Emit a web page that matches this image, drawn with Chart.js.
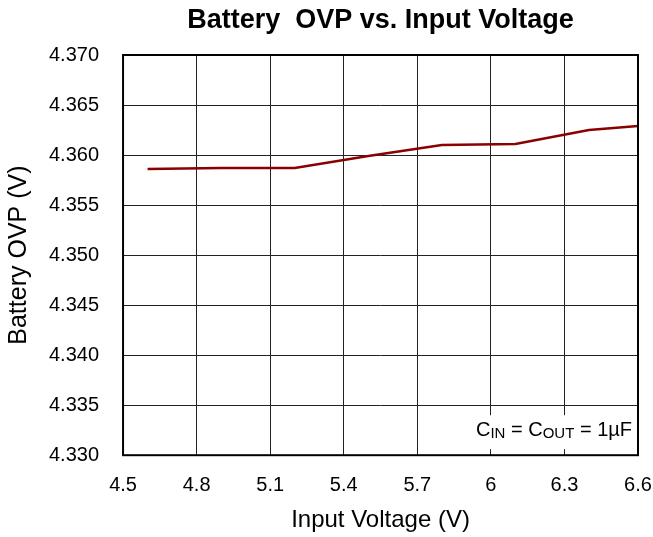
<!DOCTYPE html>
<html>
<head>
<meta charset="utf-8">
<script src="https://cdn.jsdelivr.net/npm/chart.js@4"></script>
<style>
  html, body { margin: 0; padding: 0; background: #fff; }
  #wrap { width: 653px; height: 537px; }
</style>
</head>
<body>
<div id="wrap"><canvas id="chart"></canvas></div>
<script>
// Данные
const inputVoltage = [4.6, 4.9, 5.2, 5.5, 5.8, 6.1, 6.4, 6.6];
const batteryOvp = [4.3586, 4.3587, 4.3587, 4.3599, 4.3610, 4.3611, 4.3625, 4.3629];

const chartTitle = 'Battery  OVP vs. Input Voltage';
const xTitle = 'Input Voltage (V)';
const yTitle = 'Battery OVP (V)';

const fontFamily = "'Liberation Sans', Arial, sans-serif";

// Заголовок по центру области графика
const titlePlugin = {
    id: 'centerTitle',
    afterDraw(chart) {
        const { ctx, chartArea } = chart;
        ctx.save();
        ctx.font = 'bold 27px ' + fontFamily;
        ctx.fillStyle = '#000';
        ctx.textAlign = 'center';
        ctx.textBaseline = 'middle';
        ctx.fillText(chartTitle, (chartArea.left + chartArea.right) / 2, 21);
        ctx.restore();
    }
};

// Подпись условий в правом нижнем углу
const notePlugin = {
    id: 'note',
    afterDatasetsDraw(chart) {
        const { ctx, chartArea } = chart;
        const parts = [
            ['C', 20, 0], ['IN', 15, 2], [' = C', 20, 0], ['OUT', 15, 2], [' = 1\u00b5F', 20, 0]
        ];
        ctx.save();
        let width = 0;
        parts.forEach(p => {
            ctx.font = p[1] + 'px ' + fontFamily;
            width += ctx.measureText(p[0]).width;
        });
        const right = chartArea.right - 6;
        const baseY = chartArea.bottom - 19;
        ctx.fillStyle = '#fff';
        ctx.fillRect(right - width - 10, chartArea.bottom - 40, width + 14, 34);
        ctx.fillStyle = '#000';
        ctx.textBaseline = 'alphabetic';
        let x = right - width;
        parts.forEach(p => {
            ctx.font = p[1] + 'px ' + fontFamily;
            ctx.fillText(p[0], x, baseY + p[2]);
            x += ctx.measureText(p[0]).width;
        });
        ctx.restore();
    }
};

const borderPlugin = {
    id: 'frame',
    afterDatasetsDraw(chart) {
        const { ctx, chartArea } = chart;
        ctx.save();
        ctx.strokeStyle = '#000';
        ctx.lineWidth = 2;
        ctx.strokeRect(chartArea.left, chartArea.top, chartArea.right - chartArea.left, chartArea.bottom - chartArea.top);
        ctx.restore();
    }
};

new Chart(document.getElementById('chart'), {
    type: 'line',
    data: {
        datasets: [{
            data: inputVoltage.map((v, i) => ({ x: v, y: batteryOvp[i] })),
            borderColor: '#8b0000',
            borderWidth: 2.5,
            pointRadius: 0,
            tension: 0
        }]
    },
    options: {
        responsive: true,
        maintainAspectRatio: false,
        animation: false,
        layout: { padding: { top: 55, right: 15, bottom: 2, left: 4 } },
        plugins: {
            legend: { display: false },
            tooltip: { enabled: false }
        },
        scales: {
            x: {
                type: 'linear',
                min: 4.5,
                max: 6.6,
                // последняя подпись не должна сдвигать правый край
                afterFit: scale => { scale.paddingRight = 0; },
                ticks: {
                    stepSize: 0.3,
                    color: '#000',
                    padding: 18,
                    font: { family: fontFamily, size: 20 },
                    callback: v => parseFloat(v.toFixed(1)).toString()
                },
                grid: { color: '#222', lineWidth: 1, drawTicks: false },
                border: { display: false },
                title: {
                    display: true,
                    text: xTitle,
                    color: '#000',
                    font: { family: fontFamily, size: 24 },
                    padding: { top: -9, bottom: 0 }
                }
            },
            y: {
                min: 4.33,
                max: 4.37,
                ticks: {
                    stepSize: 0.005,
                    color: '#000',
                    padding: 24,
                    font: { family: fontFamily, size: 20 },
                    callback: v => v.toFixed(3)
                },
                grid: { color: '#222', lineWidth: 1, drawTicks: false },
                border: { display: false },
                title: {
                    display: true,
                    text: yTitle,
                    color: '#000',
                    font: { family: fontFamily, size: 25 },
                    padding: { top: 0, bottom: -9 }
                }
            }
        }
    },
    plugins: [titlePlugin, notePlugin, borderPlugin]
});
</script>
</body>
</html>
